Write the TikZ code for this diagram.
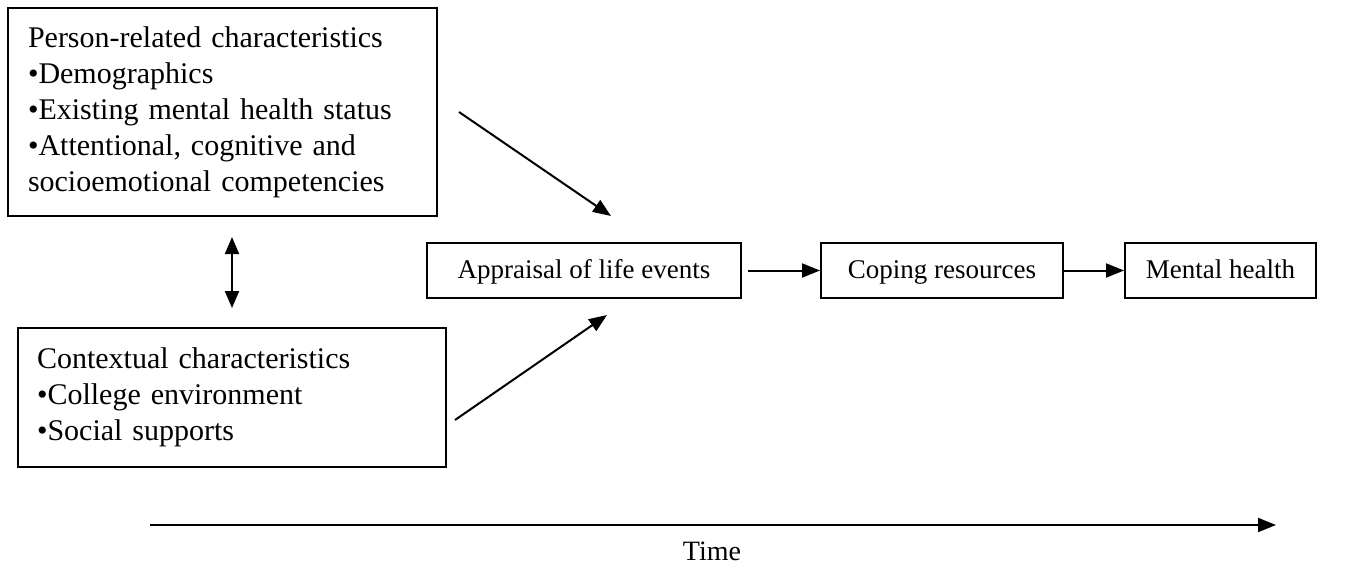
\documentclass[tikz,border=0pt]{standalone}
\usepackage{fontspec}
\setmainfont{Liberation Serif}
\usetikzlibrary{arrows.meta}
\begin{document}
\begin{tikzpicture}[x=1pt,y=-1pt,
  bigbox/.style={draw,line width=2pt,align=left,inner ysep=0pt,font=\fontsize{30}{36}\selectfont},
  smallbox/.style={draw,line width=2pt,inner sep=0pt,text height=21pt,text depth=6pt,font=\fontsize{27}{32}\selectfont},
  conn/.style={line width=2pt,-{Triangle[length=18pt,width=14pt]}},
  dconn/.style={line width=2pt,{Triangle[length=17pt,width=14pt]}-{Triangle[length=17pt,width=14pt]}}]
\useasboundingbox (0,0) rectangle (1352,570);
\node[bigbox,minimum width=429pt,minimum height=208pt,text width=389pt,inner xsep=20pt] (p) at (222.5,112)
 {Person-related characteristics\\ •Demographics\\ •Existing mental health status\\ •Attentional, cognitive and\\ socioemotional competencies};
\node[bigbox,minimum width=428pt,minimum height=139pt,text width=390pt,inner xsep=19pt] (c) at (232,397.5)
 {Contextual characteristics\\ •College environment\\ •Social supports};
\node[smallbox,minimum width=314pt,minimum height=55pt] (a) at (584,270.5) {Appraisal of life events};
\node[smallbox,minimum width=242pt,minimum height=55pt] (r) at (942,270.5) {Coping resources};
\node[smallbox,minimum width=191pt,minimum height=55pt] (m) at (1220.5,270.5) {Mental health};
\coordinate (d1) at (232,237);
\coordinate (d2) at (232,308);
\coordinate (u1) at (459,112);
\coordinate (u2) at (611,216);
\coordinate (l1) at (455,420);
\coordinate (l2) at (607,315);
\coordinate (t0) at (150,525);
\coordinate (t1) at (1276,525);
\draw[dconn] (d1) -- (d2);
\draw[conn] (u1) -- (u2);
\draw[conn] (l1) -- (l2);
\draw[conn,shorten <=6pt] (a.east) -- (r.west);
\draw[conn] (r.east) -- (m.west);
\draw[conn] (t0) -- (t1);
\node[font=\fontsize{28}{32}\selectfont] (time) at (712,551) {Time};
\end{tikzpicture}
\end{document}
